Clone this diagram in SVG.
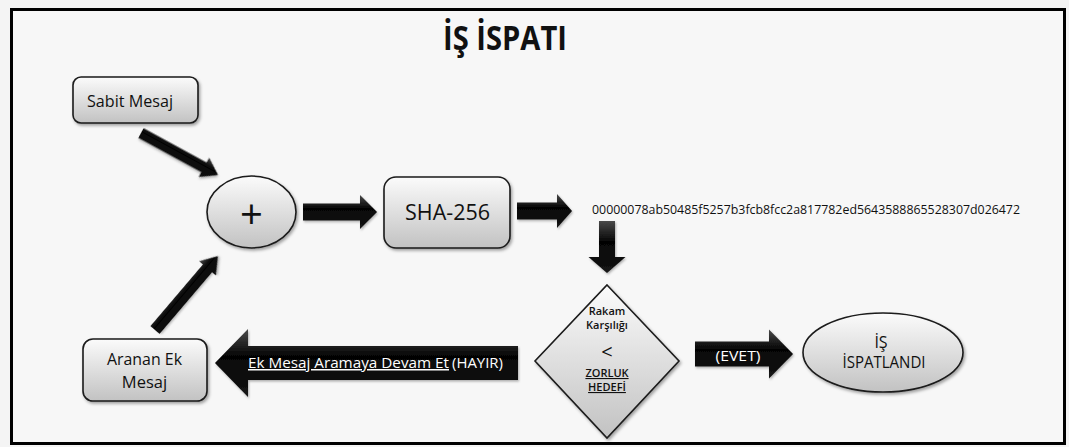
<svg xmlns="http://www.w3.org/2000/svg" width="1069" height="447" viewBox="0 0 1069 447">
  <style>
    .t { font-family: "Open Sans", "Liberation Sans", sans-serif; fill: #111; }
    .w { font-family: "Open Sans", "Liberation Sans", sans-serif; fill: #fff; }
    .d { font-family: "Open Sans", "Liberation Sans", sans-serif; fill: #111; font-size: 11px; font-weight: 600; }
    .node { stroke: #1a1a1a; stroke-width: 1.6; filter: url(#sh); }
    .arr { fill: url(#ag); filter: url(#ash); }
    .u { text-decoration: underline; }
  </style>
  <defs>
    <linearGradient id="ng" x1="0" y1="0" x2="0" y2="1">
      <stop offset="0" stop-color="#fbfbfb"/>
      <stop offset="1" stop-color="#c2c2c2"/>
    </linearGradient>
    <linearGradient id="ag" x1="0" y1="0" x2="0" y2="1">
      <stop offset="0" stop-color="#4a4a4a"/>
      <stop offset="0.4" stop-color="#050505"/>
      <stop offset="1" stop-color="#151515"/>
    </linearGradient>
    <filter id="sh" x="-20%" y="-20%" width="140%" height="140%">
      <feDropShadow dx="1.5" dy="2" stdDeviation="1.5" flood-color="#000" flood-opacity="0.35"/>
    </filter>
    <filter id="ash" x="-20%" y="-40%" width="140%" height="180%">
      <feDropShadow dx="1" dy="1.5" stdDeviation="1.2" flood-color="#000" flood-opacity="0.3"/>
    </filter>
  </defs>

  <rect x="0" y="0" width="1069" height="447" fill="#f4f4f4"/>
  <rect x="11.5" y="9.5" width="1053" height="434" fill="#f7f7f7" stroke="#000" stroke-width="3"/>

  <text class="t" x="505" y="50" font-size="34" font-weight="bold" text-anchor="middle" textLength="124" lengthAdjust="spacingAndGlyphs">İŞ İSPATI</text>

  <g id="connectors">
    <path class="arr" transform="translate(141,133) rotate(28.6)" d="M0,-5.5 L71.7,-5.5 L71.7,-11 L87.7,0 L71.7,11 L71.7,5.5 L0,5.5 Z"/>
    <path class="arr" transform="translate(155,330) rotate(-49.6)" d="M0,-6 L81,-6 L81,-11 L97,0 L81,11 L81,6 L0,6 Z"/>
    <path class="arr" d="M303,203.5 L360,203.5 L360,195 L377,212 L360,229 L360,220.5 L303,220.5 Z"/>
    <path class="arr" d="M517,202.5 L557,202.5 L557,194 L572,211 L557,228 L557,219.5 L517,219.5 Z"/>
    <path class="arr" d="M599,221 L615,221 L615,257 L625.5,257 L607,273 L588.5,257 L599,257 Z"/>
    <path class="arr" d="M695,341.5 L769,341.5 L769,329.5 L793,354 L769,378.5 L769,366.5 L695,366.5 Z"/>
    <path class="arr" d="M518,346 L248,346 L248,329 L215,363 L248,397 L248,380 L518,380 Z"/>
    <text class="w" x="738" y="361" font-size="15" text-anchor="middle" textLength="45" lengthAdjust="spacingAndGlyphs">(EVET)</text>
    <text class="w" y="368" font-size="15"><tspan class="u" x="248" textLength="201" lengthAdjust="spacingAndGlyphs">Ek Mesaj Aramaya Devam Et</tspan><tspan x="452" textLength="51" lengthAdjust="spacingAndGlyphs">(HAYIR)</tspan></text>
  </g>

  <g id="sabit">
    <rect class="node" x="73" y="77" width="125" height="46" rx="8" fill="url(#ng)"/>
    <text class="t" x="130" y="107" font-size="15.5" text-anchor="middle" textLength="86" lengthAdjust="spacingAndGlyphs">Sabit Mesaj</text>
  </g>

  <g id="plus">
    <ellipse class="node" cx="251.5" cy="212" rx="44.5" ry="36" fill="url(#ng)"/>
    <text class="t" x="251.5" y="229" font-size="40" text-anchor="middle">+</text>
  </g>

  <g id="sha">
    <rect class="node" x="384" y="177" width="126" height="71" rx="12" fill="url(#ng)"/>
    <text class="t" x="447.5" y="220" font-size="21" text-anchor="middle" textLength="85" lengthAdjust="spacingAndGlyphs">SHA-256</text>
  </g>

  <g id="hash">
    <text class="t" x="592" y="214" font-size="12.5" textLength="428" lengthAdjust="spacingAndGlyphs">00000078ab50485f5257b3fcb8fcc2a817782ed5643588865528307d026472</text>
  </g>

  <g id="decision">
    <polygon class="node" points="607,285 679,361 607,438 535,361" fill="url(#ng)"/>
    <text class="d" x="607" y="315" text-anchor="middle">Rakam</text>
    <text class="d" x="607" y="329" text-anchor="middle">Karşılığı</text>
    <text class="t" x="607" y="359" font-size="20" text-anchor="middle">&lt;</text>
    <text class="d u" x="607" y="377" text-anchor="middle">ZORLUK</text>
    <text class="d u" x="607" y="391" text-anchor="middle">HEDEFİ</text>
  </g>

  <g id="done">
    <ellipse class="node" cx="883" cy="352.5" rx="80" ry="39.5" fill="url(#ng)"/>
    <text class="t" x="881" y="348" font-size="16" text-anchor="middle">İŞ</text>
    <text class="t" x="884" y="368" font-size="16" text-anchor="middle" textLength="83" lengthAdjust="spacingAndGlyphs">İSPATLANDI</text>
  </g>

  <g id="aranan">
    <rect class="node" x="83" y="339" width="124" height="62" rx="10" fill="url(#ng)"/>
    <text class="t" x="144.5" y="365" font-size="16.5" text-anchor="middle" textLength="75" lengthAdjust="spacingAndGlyphs">Aranan Ek</text>
    <text class="t" x="144.5" y="388" font-size="16.5" text-anchor="middle">Mesaj</text>
  </g>
</svg>
